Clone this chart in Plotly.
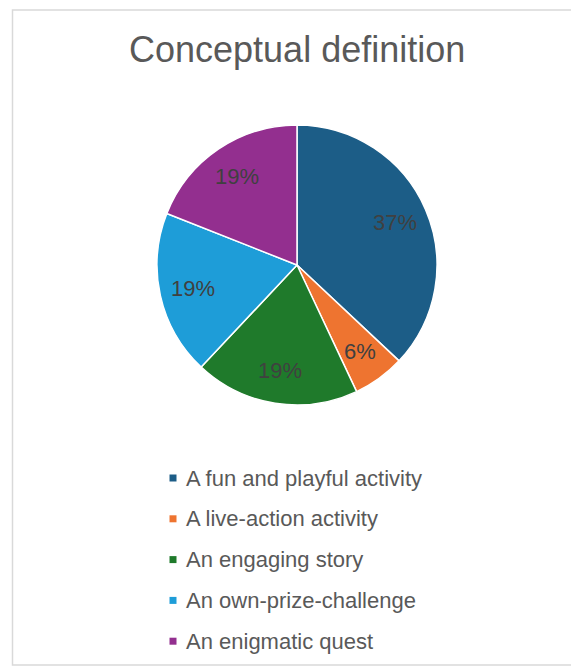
import math
import plotly.graph_objects as go

# Survey shares for the conceptual definition question
categories = [
    "A fun and playful activity",
    "A live-action activity",
    "An engaging story",
    "An own-prize-challenge",
    "An enigmatic quest",
]
shares = [37, 6, 19, 19, 19]
colors = ["#1c5d87", "#ee7430", "#1f7a2b", "#1e9dd8", "#932f8f"]

W, H = 571, 670
FONT = "Liberation Sans, Arial, sans-serif"

# Pie geometry in pixels
cx, cy, R = 297, 265, 140

fig = go.Figure(
    go.Pie(
        labels=categories,
        values=shares,
        marker=dict(colors=colors, line=dict(color="white", width=1.5)),
        sort=False,
        direction="clockwise",
        rotation=0,
        textinfo="none",
        hoverinfo="label+percent",
        showlegend=False,
        domain=dict(
            x=[(cx - R) / W, (cx + R) / W],
            y=[1 - (cy + R) / H, 1 - (cy - R) / H],
        ),
    )
)

annotations = []
shapes = []

# Percentage labels placed along each slice's mid angle
total = sum(shares)
start = 0.0
for val in shares:
    frac = val / total
    mid = (start + frac / 2) * 2 * math.pi
    start += frac
    r = 0.76 * R
    px = cx + r * math.sin(mid)
    py = cy - r * math.cos(mid)
    annotations.append(dict(
        x=px / W, y=1 - py / H, xref="paper", yref="paper",
        text=f"{round(frac * 100)}%", showarrow=False,
        font=dict(family=FONT, size=22, color="#404040"),
        xanchor="center", yanchor="middle",
    ))

# Title
annotations.append(dict(
    x=cx / W, y=1 - 50 / H, xref="paper", yref="paper",
    text="Conceptual definition", showarrow=False,
    font=dict(family=FONT, size=36, color="#595959"),
    xanchor="center", yanchor="middle",
))

# Legend: colored square + label per category
leg_x0, leg_y0, leg_gap = 173, 478, 40.8
for i, (name, col) in enumerate(zip(categories, colors)):
    y = leg_y0 + i * leg_gap
    shapes.append(dict(
        type="rect", xref="paper", yref="paper",
        x0=(leg_x0 - 3.5) / W, x1=(leg_x0 + 3.5) / W,
        y0=1 - (y + 3.5) / H, y1=1 - (y - 3.5) / H,
        fillcolor=col, line=dict(width=0),
    ))
    annotations.append(dict(
        x=(leg_x0 + 11) / W, y=1 - y / H, xref="paper", yref="paper",
        text=name, showarrow=False,
        font=dict(family=FONT, size=22, color="#595959"),
        xanchor="left", yanchor="middle",
    ))

# Chart-area border
shapes.append(dict(
    type="rect", xref="paper", yref="paper",
    x0=12.5 / W, x1=1.01, y0=1 - 665 / H, y1=1 - 10 / H,
    line=dict(color="#d9d9d9", width=1.5), fillcolor="rgba(0,0,0,0)",
))

fig.update_layout(
    width=W, height=H,
    margin=dict(l=0, r=0, t=0, b=0),
    paper_bgcolor="white", plot_bgcolor="white",
    annotations=annotations, shapes=shapes,
)

fig.write_html("out.html")
